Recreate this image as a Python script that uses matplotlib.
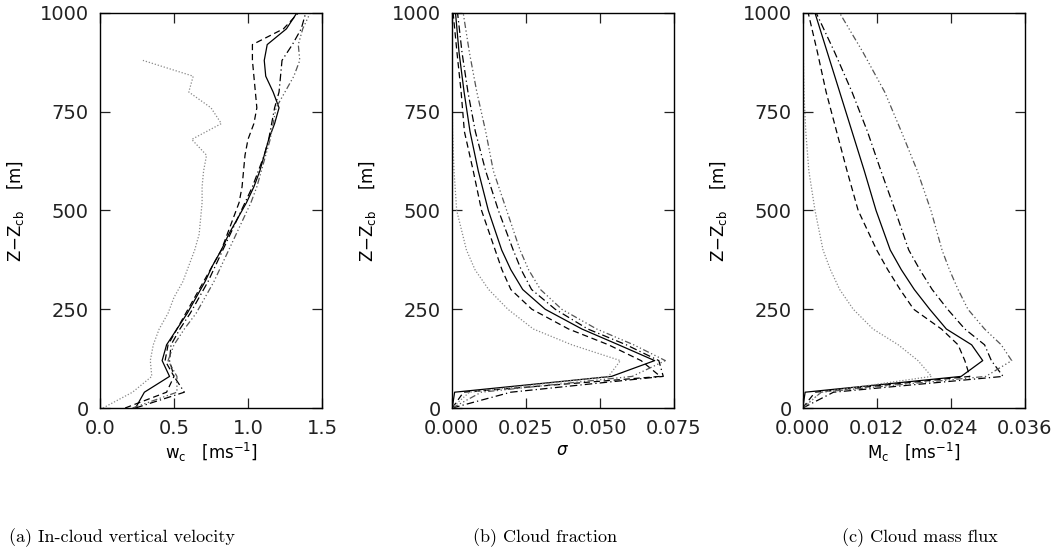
import matplotlib.pyplot as plt
import numpy as np

# heights (m above cloud base)
z_w = np.arange(0, 1001, 40)
z_dot_w = np.arange(0, 881, 40)
z_s = [0, 40, 80, 120, 160, 200, 250, 300, 350, 400, 500, 600, 700, 800, 900, 1000]

# (a) in-cloud vertical velocity [m/s]
w_solid = [0.24, 0.30, 0.47, 0.42, 0.45, 0.52, 0.59, 0.65, 0.71, 0.76, 0.82, 0.87, 0.93,
           0.99, 1.04, 1.08, 1.11, 1.14, 1.18, 1.21, 1.17, 1.12, 1.11, 1.13, 1.26, 1.33]
w_dash = [0.17, 0.45, 0.50, 0.44, 0.46, 0.52, 0.58, 0.64, 0.70, 0.76, 0.82, 0.86, 0.90,
          0.94, 0.96, 0.97, 0.98, 1.00, 1.04, 1.06, 1.05, 1.04, 1.03, 1.03, 1.24, 1.34]
w_dashdot = [0.24, 0.57, 0.50, 0.47, 0.48, 0.54, 0.61, 0.67, 0.73, 0.78, 0.83, 0.88, 0.93,
             0.98, 1.03, 1.07, 1.11, 1.14, 1.16, 1.18, 1.21, 1.22, 1.23, 1.30, 1.36, 1.39]
w_dd = [0.22, 0.52, 0.52, 0.46, 0.50, 0.57, 0.65, 0.71, 0.77, 0.82, 0.87, 0.92, 0.97,
        1.02, 1.06, 1.09, 1.12, 1.15, 1.17, 1.19, 1.25, 1.31, 1.35, 1.34, 1.37, 1.42]
w_dot = [0.02, 0.22, 0.35, 0.34, 0.36, 0.40, 0.46, 0.50, 0.56, 0.60, 0.64, 0.67, 0.68,
         0.69, 0.69, 0.70, 0.72, 0.62, 0.82, 0.75, 0.60, 0.63, 0.29]

# (b) cloud fraction
s_solid = [0.0002, 0.001, 0.054, 0.0686, 0.0564, 0.044, 0.0316, 0.024, 0.020, 0.0169,
           0.0124, 0.009, 0.0062, 0.0042, 0.0025, 0.0013]
s_dash = [0.0002, 0.004, 0.0705, 0.064, 0.053, 0.0395, 0.0271, 0.020, 0.017, 0.0147,
          0.0101, 0.0073, 0.0043, 0.0032, 0.0018, 0.0005]
s_dashdot = [0.0002, 0.020, 0.0715, 0.070, 0.059, 0.046, 0.035, 0.027, 0.0235, 0.0208,
             0.0158, 0.0115, 0.0080, 0.0055, 0.0035, 0.002]
s_dd = [0.0002, 0.010, 0.061, 0.0722, 0.0615, 0.049, 0.0372, 0.030, 0.026, 0.0231,
        0.0186, 0.0141, 0.0115, 0.0085, 0.006, 0.0039]
s_dot = [0.0, 0.006, 0.053, 0.057, 0.0406, 0.0276, 0.019, 0.0125, 0.0079, 0.0050,
         0.0017, 0.0008, 0.0003, 0.0002, 0.0001, 0.0]

# (c) cloud mass flux [m/s]
m_solid = [0.0, 0.0004, 0.0257, 0.0292, 0.0274, 0.0233, 0.0206, 0.0181, 0.0160, 0.0142,
           0.0119, 0.0100, 0.0080, 0.0060, 0.0040, 0.0020]
m_dash = [0.0, 0.002, 0.0271, 0.0263, 0.0252, 0.0225, 0.0180, 0.0158, 0.0138, 0.0120,
          0.0090, 0.0072, 0.0055, 0.0038, 0.0024, 0.0009]
m_dashdot = [0.0, 0.005, 0.0325, 0.0306, 0.0295, 0.0263, 0.0235, 0.0210, 0.0190, 0.0172,
             0.0150, 0.0127, 0.0105, 0.0080, 0.0052, 0.0022]
m_dd = [0.0, 0.003, 0.0297, 0.0339, 0.0322, 0.0295, 0.0268, 0.0252, 0.0238, 0.0226,
        0.0208, 0.0186, 0.0160, 0.0133, 0.0098, 0.006]
m_dot = [0.0, 0.003, 0.0209, 0.0187, 0.0155, 0.0114, 0.0082, 0.0060, 0.0045, 0.0033,
         0.0020, 0.0010, 0.0005, 0.0002, 0.0001, 0.0]

STYLES = [
    dict(color="black", ls="-"),
    dict(color="black", ls=(0, (5, 3))),
    dict(color="black", ls=(0, (6, 2.5, 1, 2.5))),
    dict(color="#555555", ls=(0, (5, 2, 1, 2, 1, 2, 1, 2))),
    dict(color="#888888", ls=(0, (1, 1.5))),
]

plt.rcParams["font.family"] = "DejaVu Sans"
fig = plt.figure(figsize=(10.57, 5.53), dpi=100)

lefts = [0.0946, 0.4273, 0.7594]
cap_x = [0.1154, 0.5156, 0.8704]
panels = [
    ([(w_solid, z_w), (w_dash, z_w), (w_dashdot, z_w), (w_dd, z_w), (w_dot, z_dot_w)],
     (0, 1.5), [0.0, 0.5, 1.0, 1.5], "%.1f", r"w$_{\rm c}$   [ms$^{-1}$]",
     "(a) In-cloud vertical velocity"),
    ([(s_solid, z_s), (s_dash, z_s), (s_dashdot, z_s), (s_dd, z_s), (s_dot, z_s)],
     (0, 0.075), [0.0, 0.025, 0.05, 0.075], "%.3f", r"$\sigma$",
     "(b) Cloud fraction"),
    ([(m_solid, z_s), (m_dash, z_s), (m_dashdot, z_s), (m_dd, z_s), (m_dot, z_s)],
     (0, 0.036), [0.0, 0.012, 0.024, 0.036], "%.3f", r"M$_{\rm c}$   [ms$^{-1}$]",
     "(c) Cloud mass flux"),
]

for left, cx, (series, xlim, xticks, fmt, xlabel, caption) in zip(lefts, cap_x, panels):
    ax = fig.add_axes([left, 0.2622, 0.2100, 0.7143])
    for (x, z), st in zip(series, STYLES):
        ax.plot(x, z, lw=0.9, **st)
    ax.set_xlim(*xlim)
    ax.set_ylim(0, 1000)
    ax.set_xticks(xticks)
    ax.set_xticklabels([fmt % t for t in xticks])
    ax.set_yticks([0, 250, 500, 750, 1000])
    ax.tick_params(direction="in", top=True, right=True, length=7, width=0.9,
                   labelsize=14, pad=8, colors="#222222")
    for sp in ax.spines.values():
        sp.set_linewidth(1.0)
    ax.set_xlabel(xlabel, fontsize=12, labelpad=2)
    ax.set_ylabel(r"Z$-$Z$_{\rm cb}$    [m]", fontsize=12, labelpad=10)
    fig.text(cx, 0.028, caption, ha="center", va="center",
             fontsize=13, family="cmr10")

fig.savefig("out.png", dpi=100)
